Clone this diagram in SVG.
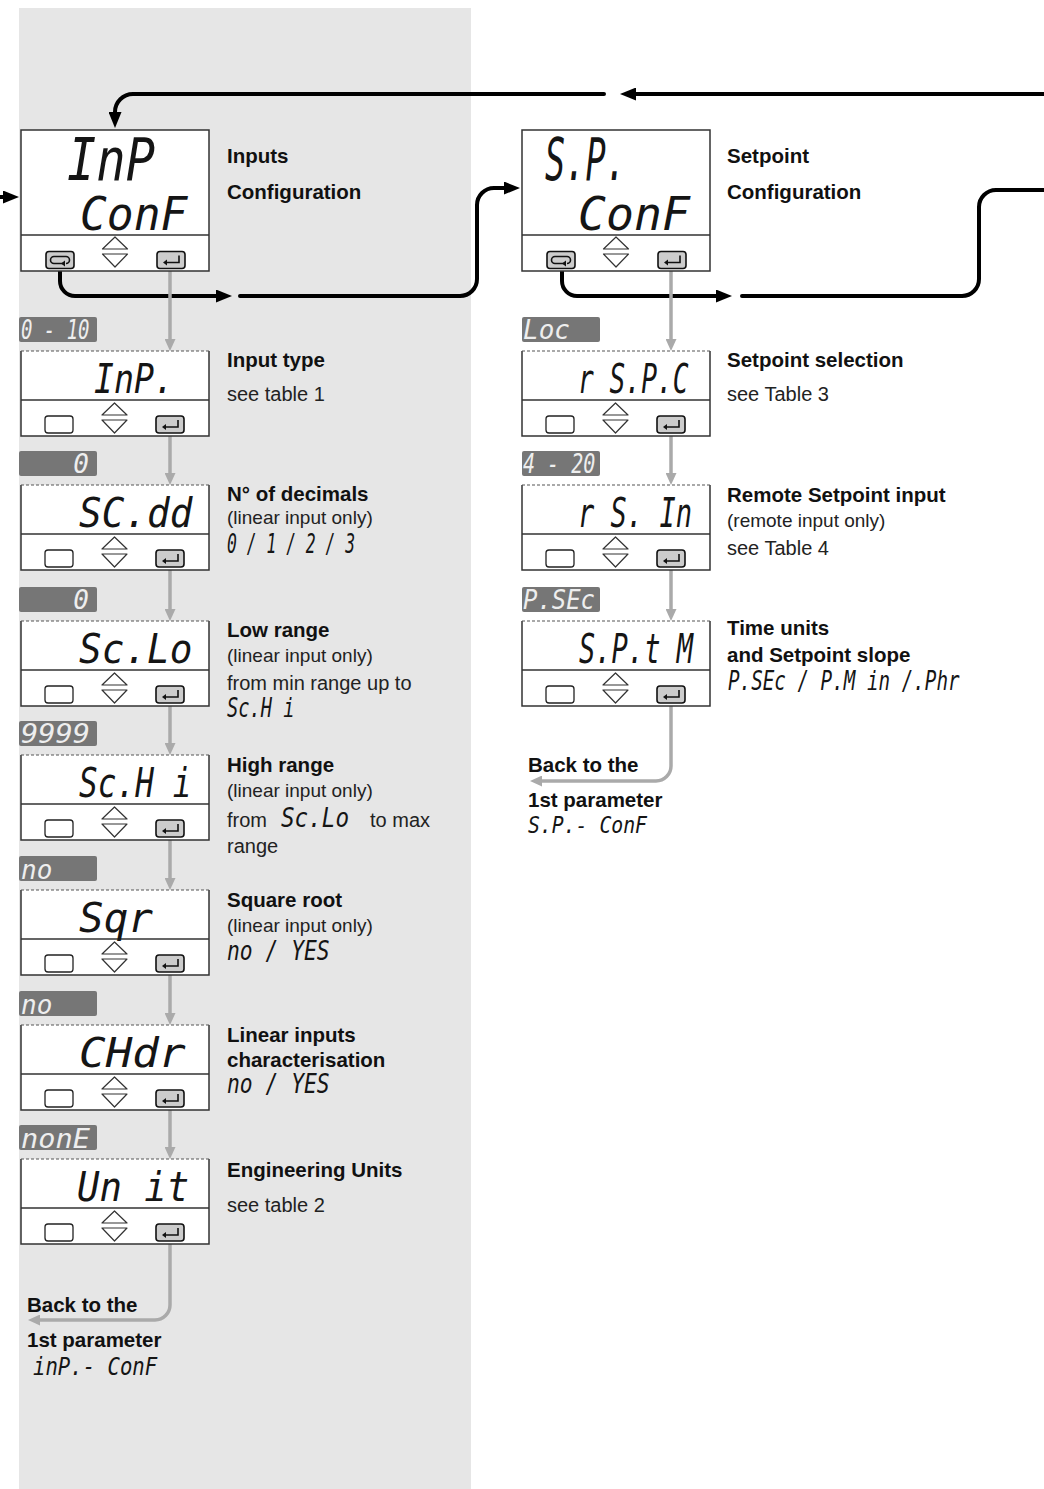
<svg xmlns="http://www.w3.org/2000/svg" xmlns:xlink="http://www.w3.org/1999/xlink" width="1044" height="1489" viewBox="0 0 1044 1489">
<style>
.bg{fill:#ffffff}
.panel{fill:#e6e6e6}
.face{fill:#ffffff}
.edge{fill:none;stroke:#333;stroke-width:1.5}
.dash{fill:none;stroke:#555;stroke-width:1.2;stroke-dasharray:3,2}
.lbl{fill:#767676}
.lt{font-family:"DejaVu Sans Mono",monospace;font-style:italic;font-size:26px;fill:#eeeeee}
.seg{font-family:"DejaVu Sans Mono",monospace;font-style:italic;fill:#151515}
.b{font-family:"Liberation Sans",Arial,sans-serif;font-weight:bold;font-size:20.5px;fill:#111}
.r{font-family:"Liberation Sans",Arial,sans-serif;font-size:20px;fill:#222}
.s{font-family:"Liberation Sans",Arial,sans-serif;font-size:19px;fill:#222}
.blk{fill:none;stroke:#000;stroke-width:4;stroke-linecap:round}
.gry{fill:none;stroke:#aaaaaa;stroke-width:3.5}
.key{fill:#ffffff;stroke:#222;stroke-width:1.3}
.keyg{fill:#cccccc;stroke:#111;stroke-width:1.6}
.ico{fill:none;stroke:#111;stroke-width:1.6}
.tri{fill:#ffffff;stroke:#333;stroke-width:1.2;stroke-linejoin:round}
</style>
<defs>
<marker id="ab" markerUnits="userSpaceOnUse" markerWidth="16" markerHeight="13" refX="8" refY="6.5" orient="auto"><path d="M0,0 L16,6.5 L0,13 z" fill="#000"/></marker>
<marker id="ag" markerUnits="userSpaceOnUse" markerWidth="12" markerHeight="11" refX="6" refY="5.5" orient="auto"><path d="M0,0 L12,5.5 L0,11 z" fill="#aaaaaa"/></marker>
<g id="btnE"><rect class="keyg" x="-14" y="-8.5" width="28" height="17" rx="3"/><path class="ico" d="M8,-4.5 V2.5 H-4"/><polygon points="-8,2.5 -4,-0.5 -4,5.5" fill="#111"/></g>
<g id="btnL"><rect class="keyg" x="-14" y="-8.5" width="28" height="17" rx="3"/><path class="ico" d="M4,3.5 H-6 A3.5,3.5 0 0 1 -6,-3.5 H6 A3.5,3.5 0 0 1 6,3.5"/><polygon points="1,3.5 5,0.5 5,6.5" fill="#111"/></g>
<g id="btnN"><rect class="key" x="-14" y="-8.5" width="28" height="17" rx="3"/></g>
<g id="updn"><polygon class="tri" points="-12.5,-2.5 0,-14.5 12.5,-2.5"/><polygon class="tri" points="-12.5,2.5 12.5,2.5 0,15.5"/></g>
<g id="pkeys"><use xlink:href="#btnN" x="38" y="73.5"/><use xlink:href="#updn" x="93.5" y="66.5"/><use xlink:href="#btnE" x="149" y="73.5"/></g>
<g id="tkeys"><use xlink:href="#btnL" x="39" y="130"/><use xlink:href="#updn" x="94" y="121.5"/><use xlink:href="#btnE" x="150" y="130"/></g>
</defs>
<rect class="bg" x="0" y="0" width="1044" height="1489"/>
<rect class="panel" x="19" y="8" width="452" height="1481"/>

<g id="connectors">
<path class="blk" d="M1044,94 H628" marker-end="url(#ab)"/>
<path class="blk" d="M604,94 H133 A18,18 0 0 0 115,112 V120" marker-end="url(#ab)"/>
<path class="blk" d="M0,197 H11" marker-end="url(#ab)"/>
<path class="blk" d="M60,268 V281 A15,15 0 0 0 75,296 H224" marker-end="url(#ab)"/>
<path class="blk" d="M240,296 H460 A17,17 0 0 0 477,279 V205 A17,17 0 0 1 494,188 H512" marker-end="url(#ab)"/>
<path class="blk" d="M562,268 V281 A15,15 0 0 0 577,296 H724" marker-end="url(#ab)"/>
<path class="blk" d="M742,296 H962 A17,17 0 0 0 979,279 V207 A17,17 0 0 1 996,190 H1044"/>
<path class="gry" d="M170,269 V345" marker-end="url(#ag)"/>
<path class="gry" d="M170,433 V479" marker-end="url(#ag)"/>
<path class="gry" d="M170,567 V615" marker-end="url(#ag)"/>
<path class="gry" d="M170,703 V749" marker-end="url(#ag)"/>
<path class="gry" d="M170,837 V884" marker-end="url(#ag)"/>
<path class="gry" d="M170,972 V1019" marker-end="url(#ag)"/>
<path class="gry" d="M170,1107 V1153" marker-end="url(#ag)"/>
<path class="gry" d="M170,1241 V1305 A15,15 0 0 1 155,1320 H34" marker-end="url(#ag)"/>
<path class="gry" d="M671,269 V345" marker-end="url(#ag)"/>
<path class="gry" d="M671,433 V479" marker-end="url(#ag)"/>
<path class="gry" d="M671,567 V615" marker-end="url(#ag)"/>
<path class="gry" d="M671,703 V766 A15,15 0 0 1 656,781 H536" marker-end="url(#ag)"/>
</g>

<g id="n-inp-conf" transform="translate(21,130)">
<rect class="face" width="188" height="141"/>
<path class="edge" d="M0,0 H188 V141 H0 Z M0,105 H188"/>
<text class="seg" font-size="58" transform="translate(46,50) scale(0.84,1)">InP</text>
<text class="seg" font-size="46" transform="translate(59,100) scale(0.97,1)">ConF</text>
<use xlink:href="#tkeys"/>
<text class="b" x="206" y="33">Inputs</text>
<text class="b" x="206" y="69">Configuration</text>
</g>

<g id="n-sp-conf" transform="translate(522,130)">
<rect class="face" width="188" height="141"/>
<path class="edge" d="M0,0 H188 V141 H0 Z M0,105 H188"/>
<text class="seg" font-size="58" transform="translate(23,50) scale(0.58,1)">S.P.</text>
<text class="seg" font-size="46" transform="translate(56,100) scale(1.01,1)">ConF</text>
<use xlink:href="#tkeys"/>
<text class="b" x="205" y="33">Setpoint</text>
<text class="b" x="205" y="69">Configuration</text>
</g>

<g id="n-inp" transform="translate(21,351)">
<rect class="lbl" x="-2" y="-34" width="78" height="25" rx="2"/>
<text class="lt" transform="translate(0,-12) scale(0.73,1)">0 - 10</text>
<rect class="face" width="188" height="85"/>
<path class="edge" d="M0,0 V85 H188 V0 M0,49 H188"/>
<path class="dash" d="M0,0 H188"/>
<text class="seg" font-size="41" transform="translate(73,42) scale(0.81,1)">InP.</text>
<use xlink:href="#pkeys"/>
<text class="b" x="206" y="16">Input type</text>
<text class="r" x="206" y="50">see table 1</text>
</g>

<g id="n-scdd" transform="translate(21,485)">
<rect class="lbl" x="-2" y="-34" width="78" height="25" rx="2"/>
<text class="lt" x="68" y="-12" text-anchor="end">0</text>
<rect class="face" width="188" height="85"/>
<path class="edge" d="M0,0 V85 H188 V0 M0,49 H188"/>
<path class="dash" d="M0,0 H188"/>
<text class="seg" font-size="41" transform="translate(58,42) scale(0.92,1)">SC.dd</text>
<use xlink:href="#pkeys"/>
<text class="b" x="206" y="16">N° of decimals</text>
<text class="s" x="206" y="39">(linear input only)</text>
<text class="seg" font-size="26" transform="translate(206,68) scale(0.63,1)">0 / 1 / 2 / 3</text>
</g>

<g id="n-sclo" transform="translate(21,621)">
<rect class="lbl" x="-2" y="-34" width="78" height="25" rx="2"/>
<text class="lt" x="68" y="-12" text-anchor="end">0</text>
<rect class="face" width="188" height="85"/>
<path class="edge" d="M0,0 V85 H188 V0 M0,49 H188"/>
<path class="dash" d="M0,0 H188"/>
<text class="seg" font-size="41" transform="translate(58,42) scale(0.92,1)">Sc.Lo</text>
<use xlink:href="#pkeys"/>
<text class="b" x="206" y="16">Low range</text>
<text class="s" x="206" y="41">(linear input only)</text>
<text class="r" x="206" y="69">from min range up to</text>
<text class="seg" font-size="26" transform="translate(206,96) scale(0.72,1)">Sc.H i</text>
</g>

<g id="n-schi" transform="translate(21,755)">
<rect class="lbl" x="-2" y="-34" width="78" height="25" rx="2"/>
<text class="lt" transform="translate(0,-12) scale(1.1,1)">9999</text>
<rect class="face" width="188" height="85"/>
<path class="edge" d="M0,0 V85 H188 V0 M0,49 H188"/>
<path class="dash" d="M0,0 H188"/>
<text class="seg" font-size="41" transform="translate(58,42) scale(0.76,1)">Sc.H i</text>
<use xlink:href="#pkeys"/>
<text class="b" x="206" y="17">High range</text>
<text class="s" x="206" y="42">(linear input only)</text>
<text class="r" x="206" y="72">from</text>
<text class="seg" font-size="26" transform="translate(260,72) scale(0.87,1)">Sc.Lo</text>
<text class="r" x="349" y="72">to max</text>
<text class="r" x="206" y="98">range</text>
</g>

<g id="n-sqr" transform="translate(21,890)">
<rect class="lbl" x="-2" y="-34" width="78" height="25" rx="2"/>
<text class="lt" x="0" y="-11">no</text>
<rect class="face" width="188" height="85"/>
<path class="edge" d="M0,0 V85 H188 V0 M0,49 H188"/>
<path class="dash" d="M0,0 H188"/>
<text class="seg" font-size="41" transform="translate(58,42) scale(1,1)">Sqr</text>
<use xlink:href="#pkeys"/>
<text class="b" x="206" y="17">Square root</text>
<text class="s" x="206" y="42">(linear input only)</text>
<text class="seg" font-size="26" transform="translate(206,70) scale(0.82,1)">no / YES</text>
</g>

<g id="n-chdr" transform="translate(21,1025)">
<rect class="lbl" x="-2" y="-34" width="78" height="25" rx="2"/>
<text class="lt" x="0" y="-11">no</text>
<rect class="face" width="188" height="85"/>
<path class="edge" d="M0,0 V85 H188 V0 M0,49 H188"/>
<path class="dash" d="M0,0 H188"/>
<text class="seg" font-size="41" transform="translate(58,42) scale(1.08,1)">CHdr</text>
<use xlink:href="#pkeys"/>
<text class="b" x="206" y="17">Linear inputs</text>
<text class="b" x="206" y="42">characterisation</text>
<text class="seg" font-size="26" transform="translate(206,68) scale(0.82,1)">no / YES</text>
</g>

<g id="n-unit" transform="translate(21,1159)">
<rect class="lbl" x="-2" y="-34" width="78" height="25" rx="2"/>
<text class="lt" transform="translate(0,-11) scale(1.1,1)">nonE</text>
<rect class="face" width="188" height="85"/>
<path class="edge" d="M0,0 V85 H188 V0 M0,49 H188"/>
<path class="dash" d="M0,0 H188"/>
<text class="seg" font-size="41" transform="translate(56,42) scale(0.91,1)">Un it</text>
<use xlink:href="#pkeys"/>
<text class="b" x="206" y="18">Engineering Units</text>
<text class="r" x="206" y="53">see table 2</text>
</g>

<g id="back-inp">
<text class="b" x="27" y="1312">Back to the</text>
<text class="b" x="27" y="1347">1st parameter</text>
<text class="seg" font-size="24" transform="translate(33,1375) scale(0.86,1)">inP.- ConF</text>
</g>

<g id="n-rspc" transform="translate(522,351)">
<rect class="lbl" x="0" y="-34" width="78" height="25" rx="2"/>
<text class="lt" x="1" y="-12">Loc</text>
<rect class="face" width="188" height="85"/>
<path class="edge" d="M0,0 V85 H188 V0 M0,49 H188"/>
<path class="dash" d="M0,0 H188"/>
<text class="seg" font-size="41" transform="translate(56,42) scale(0.64,1)">r S.P.C</text>
<use xlink:href="#pkeys"/>
<text class="b" x="205" y="16">Setpoint selection</text>
<text class="r" x="205" y="50">see Table 3</text>
</g>

<g id="n-rsin" transform="translate(522,485)">
<rect class="lbl" x="0" y="-34" width="78" height="25" rx="2"/>
<text class="lt" transform="translate(1,-12) scale(0.77,1)">4 - 20</text>
<rect class="face" width="188" height="85"/>
<path class="edge" d="M0,0 V85 H188 V0 M0,49 H188"/>
<path class="dash" d="M0,0 H188"/>
<text class="seg" font-size="41" transform="translate(56,42) scale(0.66,1)">r S. In</text>
<use xlink:href="#pkeys"/>
<text class="b" x="205" y="17">Remote Setpoint input</text>
<text class="s" x="205" y="42">(remote input only)</text>
<text class="r" x="205" y="70">see Table 4</text>
</g>

<g id="n-sptm" transform="translate(522,621)">
<rect class="lbl" x="0" y="-34" width="78" height="25" rx="2"/>
<text class="lt" transform="translate(1,-12) scale(0.92,1)">P.SEc</text>
<rect class="face" width="188" height="85"/>
<path class="edge" d="M0,0 V85 H188 V0 M0,49 H188"/>
<path class="dash" d="M0,0 H188"/>
<text class="seg" font-size="41" transform="translate(57,42) scale(0.66,1)">S.P.t M</text>
<use xlink:href="#pkeys"/>
<text class="b" x="205" y="14">Time units</text>
<text class="b" x="205" y="41">and Setpoint slope</text>
<text class="seg" font-size="26" transform="translate(206,69) scale(0.74,1)">P.SEc / P.M in /.Phr</text>
</g>

<g id="back-sp">
<text class="b" x="528" y="772">Back to the</text>
<text class="b" x="528" y="807">1st parameter</text>
<text class="seg" font-size="23" transform="translate(528,833) scale(0.86,1)">S.P.- ConF</text>
</g>
</svg>
